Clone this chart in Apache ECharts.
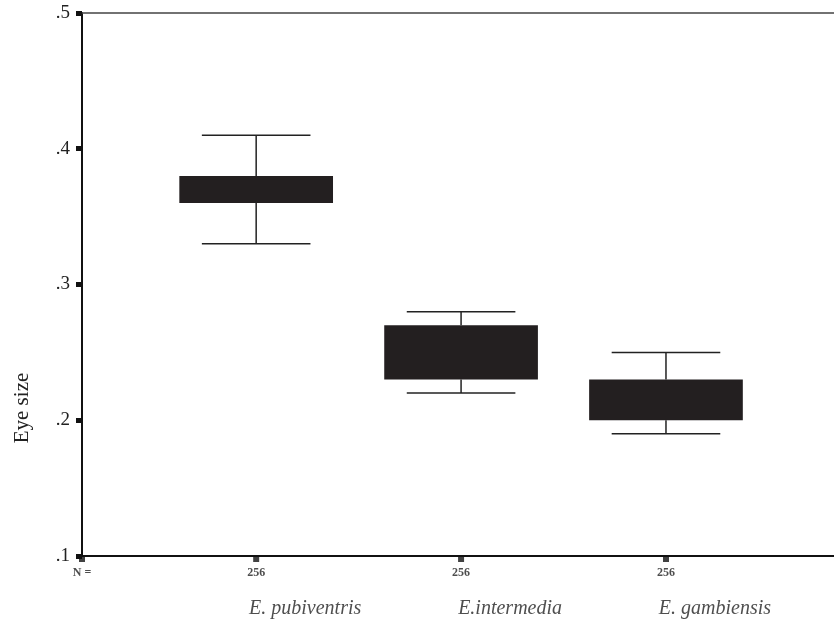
<!DOCTYPE html>
<html><head><meta charset="utf-8">
<script src="https://cdn.jsdelivr.net/npm/echarts@6/dist/echarts.min.js"></script>
<style>html,body{margin:0;padding:0;background:#fff}#c{width:834px;height:627px}</style>
</head><body><div id="c"></div>
<script>
const categories = ['E. pubiventris', 'E.intermedia', 'E. gambiensis'];
const counts = ['256', '256', '256'];
const whiskerLow = [0.33, 0.22, 0.19];
const boxLow = [0.36, 0.23, 0.20];
const boxHigh = [0.38, 0.27, 0.23];
const whiskerHigh = [0.41, 0.28, 0.25];
const nLabel = 'N =';
const yTickLabels = ['.1', '.2', '.3', '.4', '.5'];

const boxData = categories.map((c, i) => [i + 1, whiskerLow[i], boxLow[i], boxHigh[i], whiskerHigh[i]]);
const countData = [[0.15, 0.1, nLabel]].concat(counts.map((n, i) => [i + 1, 0.1, n]));
const nameData = categories.map((c, i) => [i + 1, 0.1, c]);

const serif = '"Liberation Serif","DejaVu Serif",serif';
const chart = echarts.init(document.getElementById('c'));
chart.setOption({
  animation: false,
  grid: {left: 82, top: 13, right: 0, bottom: 71},
  xAxis: [
    {type: 'value', min: 0.15, max: 3.82, axisLine: {lineStyle: {color: '#111', width: 2}},
     axisTick: {show: false}, axisLabel: {show: false}, splitLine: {show: false}},
    {type: 'value', position: 'top', min: 0.15, max: 3.82, axisLine: {show: true, lineStyle: {color: '#444', width: 1.5}},
     axisTick: {show: false}, axisLabel: {show: false}, splitLine: {show: false}}
  ],
  yAxis: {
    type: 'value', min: 0.1, max: 0.5, interval: 0.1,
    axisLine: {show: true, lineStyle: {color: '#111', width: 2}},
    axisTick: {show: true, length: 6, lineStyle: {color: '#111', width: 5}},
    axisLabel: {margin: 12, fontFamily: serif, fontSize: 19, color: '#222',
      formatter: v => yTickLabels[Math.round(v * 10) - 1]},
    splitLine: {show: false}
  },
  graphic: [{
    type: 'text', x: 22, y: 408, rotation: Math.PI / 2,
    style: {text: 'Eye size', font: '21px ' + serif, fill: '#222', textAlign: 'center', textVerticalAlign: 'middle'}
  }],
  series: [
    {
      type: 'custom', data: boxData, clip: false,
      encode: {x: 0, y: [1, 2, 3, 4]},
      renderItem: function (params, api) {
        const x = api.value(0);
        const hw = 0.375, cw = 0.265;
        const pLow = api.coord([x, api.value(1)]);
        const pQ1 = api.coord([x, api.value(2)]);
        const pQ3 = api.coord([x, api.value(3)]);
        const pHigh = api.coord([x, api.value(4)]);
        const bl = api.coord([x - hw, api.value(3)]);
        const br = api.coord([x + hw, api.value(2)]);
        const cl = api.coord([x - cw, 0])[0];
        const cr = api.coord([x + cw, 0])[0];
        const ls = {stroke: '#222', lineWidth: 1.5};
        return {type: 'group', children: [
          {type: 'line', shape: {x1: pHigh[0], y1: pHigh[1], x2: pQ3[0], y2: pQ3[1]}, style: ls},
          {type: 'line', shape: {x1: pLow[0], y1: pLow[1], x2: pQ1[0], y2: pQ1[1]}, style: ls},
          {type: 'line', shape: {x1: cl, y1: pHigh[1], x2: cr, y2: pHigh[1]}, style: ls},
          {type: 'line', shape: {x1: cl, y1: pLow[1], x2: cr, y2: pLow[1]}, style: ls},
          {type: 'rect', shape: {x: bl[0], y: bl[1], width: br[0] - bl[0], height: br[1] - bl[1]}, style: {fill: '#231f20'}}
        ]};
      }
    },
    {
      type: 'scatter', data: countData, clip: false, symbol: 'rect', symbolSize: [6, 6], symbolOffset: [0, 3],
      itemStyle: {color: '#111'},
      label: {show: true, position: 'bottom', distance: 5, formatter: p => p.data[2],
        fontFamily: serif, fontSize: 12, fontWeight: 'bold', color: '#222'}
    },
    {
      type: 'scatter', data: nameData, clip: false, symbolSize: 0,
      label: {show: true, position: 'bottom', offset: [49, 38], formatter: p => p.data[2],
        fontFamily: serif, fontStyle: 'italic', fontSize: 20, color: '#222'}
    }
  ]
});
</script></body></html>
